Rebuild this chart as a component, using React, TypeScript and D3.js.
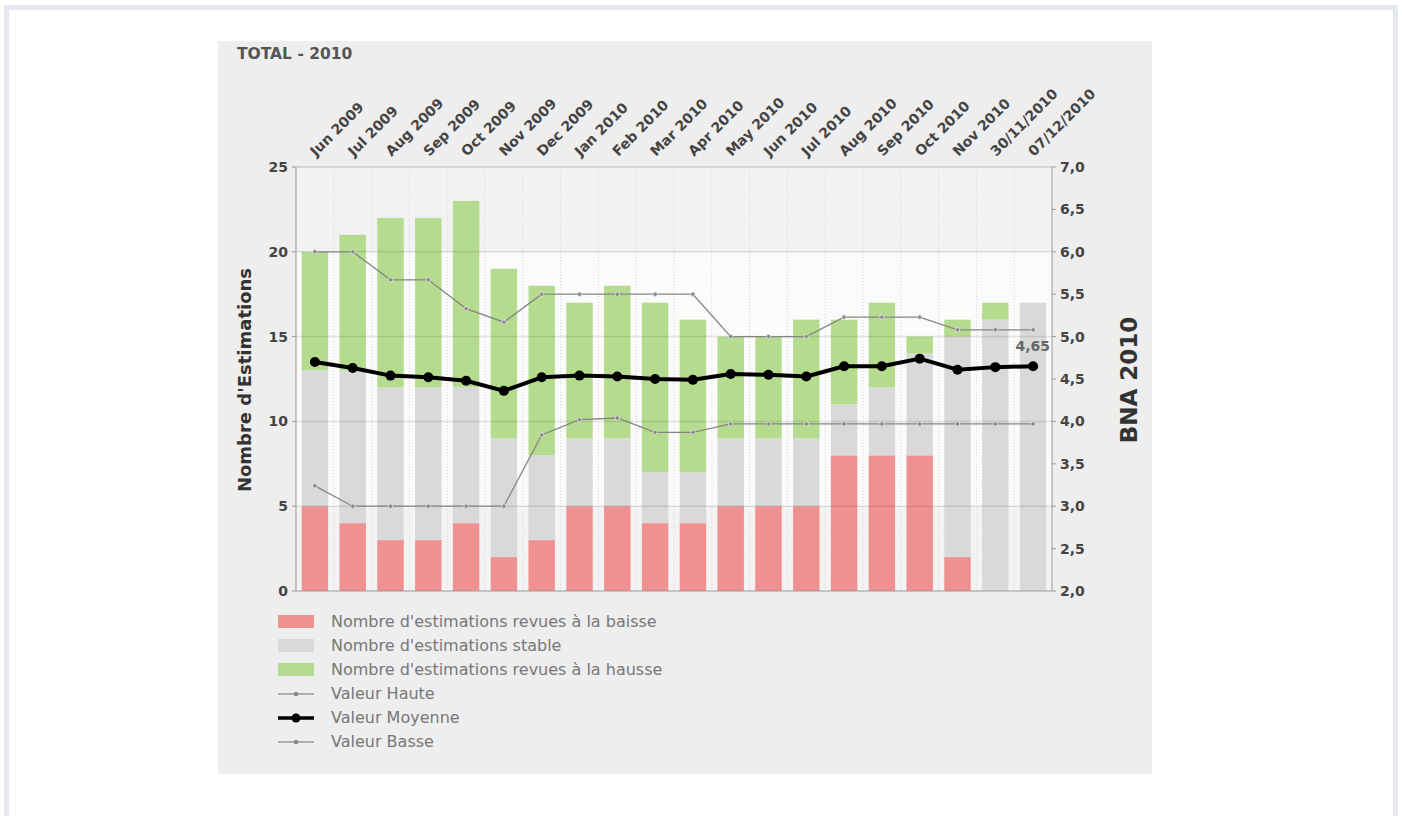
import React from "react";
import * as d3 from "d3";

const categories = ["Jun 2009", "Jul 2009", "Aug 2009", "Sep 2009", "Oct 2009", "Nov 2009", "Dec 2009", "Jan 2010", "Feb 2010", "Mar 2010", "Apr 2010", "May 2010", "Jun 2010", "Jul 2010", "Aug 2010", "Sep 2010", "Oct 2010", "Nov 2010", "30/11/2010", "07/12/2010"];
const baisse = [5, 4, 3, 3, 4, 2, 3, 5, 5, 4, 4, 5, 5, 5, 8, 8, 8, 2, 0, 0];
const stable = [8, 9, 9, 9, 8, 7, 5, 4, 4, 3, 3, 4, 4, 4, 3, 4, 6, 13, 16, 17];
const hausse = [7, 8, 10, 10, 11, 10, 10, 8, 9, 10, 9, 6, 6, 7, 5, 5, 1, 1, 1, 0];
const haute = [6.0, 6.0, 5.67, 5.67, 5.33, 5.17, 5.5, 5.5, 5.5, 5.5, 5.5, 5.0, 5.0, 5.0, 5.23, 5.23, 5.23, 5.08, 5.08, 5.08];
const moyenne = [4.7, 4.63, 4.54, 4.52, 4.48, 4.36, 4.52, 4.54, 4.53, 4.5, 4.49, 4.56, 4.55, 4.53, 4.65, 4.65, 4.74, 4.61, 4.64, 4.65];
const basse = [3.24, 3.0, 3.0, 3.0, 3.0, 3.0, 3.84, 4.02, 4.04, 3.87, 3.87, 3.97, 3.97, 3.97, 3.97, 3.97, 3.97, 3.97, 3.97, 3.97];
const leftTicks = [0, 5, 10, 15, 20, 25];
const rightTicks = [2, 2.5, 3, 3.5, 4, 4.5, 5, 5.5, 6, 6.5, 7];
const legendItems = [
  "Nombre d'estimations revues à la baisse",
  "Nombre d'estimations stable",
  "Nombre d'estimations revues à la hausse",
  "Valeur Haute",
  "Valeur Moyenne",
  "Valeur Basse",
];

const RED = "#f09191";
const GRAY = "#d9d9d9";
const GREEN = "#b5dc8e";
const FONT = "'DejaVu Sans', Verdana, sans-serif";

export default function App() {
  const left = 296, right = 1052, top = 167, bottom = 591;
  const x = d3.scaleBand().domain(categories).range([left, right]).paddingInner(0.3).paddingOuter(0.15);
  const step = x.step();
  const y = d3.scaleLinear().domain([0, 25]).range([bottom, top]);
  const y2 = d3.scaleLinear().domain([2, 7]).range([bottom, top]);
  const cx = (c: string) => (x(c) as number) + x.bandwidth() / 2;

  const series = [
    { vals: baisse, color: RED },
    { vals: stable, color: GRAY },
    { vals: hausse, color: GREEN },
  ];

  const line = (vals: number[]) =>
    d3.line<number>().x((_, i) => cx(categories[i])).y((v) => y2(v))(vals) as string;

  // background bands
  const bands = [[0, 5, "#f3f3f3"], [5, 20, "#fbfbfb"], [20, 25, "#f2f2f2"]] as [number, number, string][];

  return (
    <svg width={1402} height={816} style={{ position: "absolute", left: 0, top: 0 }} fontFamily={FONT}>
      <rect x={0} y={0} width={1402} height={816} fill="#fff" />
      <rect x={6.5} y={7.5} width={1389} height={900} fill="#fff" stroke="#e5e8ef" strokeWidth={5} />
      <rect x={218} y={41} width={934} height={733} fill="#eeeeee" />
      <text x={237} y={59} fontSize={15.5} fontWeight="bold" fill="#555">TOTAL - 2010</text>

      {bands.map(([a, b, c], i) => (
        <rect key={i} x={left} y={y(b)} width={right - left} height={y(a) - y(b)} fill={c} />
      ))}
      {/* vertical dotted grid */}
      {categories.map((c) => (
        <line key={c} x1={(x(c) as number) - (step - x.bandwidth()) / 2} x2={(x(c) as number) - (step - x.bandwidth()) / 2} y1={top} y2={bottom} stroke="#d4d4d4" strokeDasharray="1,2" />
      ))}

      {/* stacked bars */}
      {categories.map((c, i) => {
        let acc = 0;
        return (
          <g key={c}>
            {series.map((s, k) => {
              const v = s.vals[i];
              const y0 = acc;
              acc += v;
              if (!v) return null;
              return <rect key={k} x={x(c)} width={x.bandwidth()} y={y(acc)} height={y(y0) - y(acc)} fill={s.color} />;
            })}
          </g>
        );
      })}

      {/* horizontal grid */}
      {leftTicks.filter((t) => t > 0 && t < 25).map((t) => (
        <line key={t} x1={left} x2={right} y1={y(t)} y2={y(t)} stroke="#000" strokeOpacity={0.1} strokeWidth={1.5} />
      ))}
      <line x1={left} x2={right} y1={top} y2={top} stroke="#bbb" />
      <line x1={left} x2={left} y1={top} y2={bottom} stroke="#999" />
      <line x1={right} x2={right} y1={top} y2={bottom} stroke="#999" />
      <line x1={left} x2={right} y1={bottom} y2={bottom} stroke="#999" />

      {/* lines */}
      {[haute, basse].map((vals, k) => (
        <g key={k}>
          <path d={line(vals)} fill="none" stroke="#858585" strokeWidth={1.3} />
          {vals.map((v, i) => (
            <circle key={i} cx={cx(categories[i])} cy={y2(v)} r={2.2} fill="#888" stroke="#e8e8e8" strokeWidth={0.8} />
          ))}
        </g>
      ))}
      <path d={line(moyenne)} fill="none" stroke="#000" strokeWidth={4} strokeLinejoin="round" />
      {moyenne.map((v, i) => (
        <circle key={i} cx={cx(categories[i])} cy={y2(v)} r={5} fill="#000" />
      ))}
      <text x={1050} y={351} textAnchor="end" fontSize={14} fontWeight="bold" fill="#666">
        {d3.format(".2f")(moyenne[moyenne.length - 1]).replace(".", ",")}
      </text>

      {/* left axis */}
      {leftTicks.map((t) => (
        <g key={t}>
          <line x1={left - 4} x2={left} y1={y(t)} y2={y(t)} stroke="#999" />
          <text x={288} y={y(t) + 5} textAnchor="end" fontSize={14} fontWeight="bold" fill="#444">{t}</text>
        </g>
      ))}
      {/* right axis */}
      {rightTicks.map((t) => (
        <g key={t}>
          <line x1={right} x2={right + 4} y1={y2(t)} y2={y2(t)} stroke="#999" />
          <text x={1060} y={y2(t) + 5} fontSize={14} fontWeight="bold" fill="#444">{d3.format(".1f")(t).replace(".", ",")}</text>
        </g>
      ))}
      {/* x labels */}
      {categories.map((c) => (
        <text key={c} transform={`translate(${cx(c) + 1},${top - 10}) rotate(-45)`} fontSize={14} fontWeight="bold" fill="#444">{c}</text>
      ))}

      <text transform={`translate(251,380) rotate(-90)`} textAnchor="middle" fontSize={18} fontWeight="bold" fill="#333">Nombre d'Estimations</text>
      <text transform={`translate(1137,380) rotate(-90)`} textAnchor="middle" fontSize={23} fontWeight="bold" fill="#333">BNA 2010</text>

      {/* legend */}
      {legendItems.map((label, i) => {
        const ly = 622 + i * 24;
        let sym;
        if (i < 3) sym = <rect x={278} y={ly - 7} width={36} height={13} fill={series[i].color} />;
        else if (i === 4)
          sym = (
            <g>
              <line x1={278} x2={314} y1={ly} y2={ly} stroke="#000" strokeWidth={3.5} />
              <circle cx={296} cy={ly} r={4.5} fill="#000" />
            </g>
          );
        else
          sym = (
            <g>
              <line x1={278} x2={314} y1={ly} y2={ly} stroke="#999" strokeWidth={1.3} />
              <circle cx={296} cy={ly} r={2.2} fill="#888" />
            </g>
          );
        return (
          <g key={label}>
            {sym}
            <text x={331} y={ly + 5} fontSize={16} fill="#777">{label}</text>
          </g>
        );
      })}
    </svg>
  );
}
